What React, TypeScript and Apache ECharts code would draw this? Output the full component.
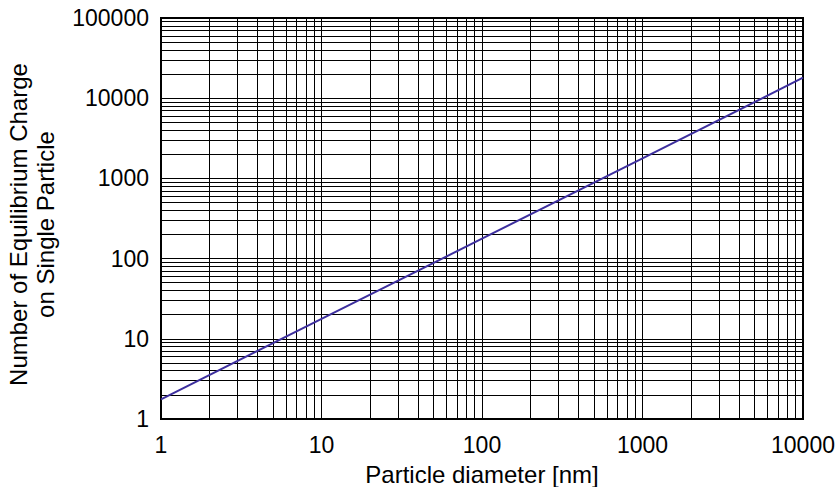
import React, { useEffect, useRef } from "react";
import * as echarts from "echarts";

const particleDiameter = [1, 10, 100, 1000, 10000];
const equilibriumCharge = [1.76, 17.7, 177, 1780, 18000];

const xMinorGrid = [2, 3, 4, 5, 6, 7, 8, 9, 20, 30, 40, 50, 60, 70, 80, 90, 200, 300, 400, 500, 600, 700, 800, 900, 2000, 3000, 4000, 5000, 6000, 7000, 8000, 9000];
const yMinorGrid = [2, 3, 4, 5, 6, 7, 8, 9, 20, 30, 40, 50, 60, 70, 80, 90, 200, 300, 400, 500, 600, 700, 800, 900, 2000, 3000, 4000, 5000, 6000, 7000, 8000, 9000, 20000, 30000, 40000, 50000, 60000, 70000, 80000, 90000];

const FONT = "Liberation Sans, Arial, Helvetica, sans-serif";

export default function App() {
  const ref = useRef<HTMLDivElement>(null);
  useEffect(() => {
    if (!ref.current) return;
    const chart = echarts.init(ref.current, undefined, { renderer: "svg" });
    const data = particleDiameter.map((d, i) => [d, equilibriumCharge[i]]);
    chart.setOption({
      animation: false,
      backgroundColor: "#fff",
      grid: {
        left: 161,
        right: 36,
        top: 18,
        bottom: 68,
        containLabel: false,
        outerBoundsMode: "none",
        show: true,
        borderColor: "#000",
        borderWidth: 2,
        backgroundColor: "transparent",
      },
      xAxis: {
        type: "log",
        logBase: 10,
        min: 1,
        max: 10000,
        name: "Particle diameter [nm]",
        nameLocation: "middle",
        nameGap: 43,
        nameTextStyle: { fontFamily: FONT, fontSize: 24, color: "#000" },
        axisLine: { show: true, lineStyle: { color: "#000", width: 2 } },
        axisTick: { show: false },
        axisLabel: {
          fontFamily: FONT,
          fontSize: 23,
          color: "#000",
          margin: 14,
          formatter: (v: number) => String(v),
        },
        splitLine: { show: true, lineStyle: { color: "#000", width: 1 } },
      },
      yAxis: {
        type: "log",
        logBase: 10,
        min: 1,
        max: 100000,
        name: "Number of Equilibrium Charge\non Single Particle",
        nameLocation: "middle",
        nameGap: 102,
        nameTextStyle: {
          fontFamily: FONT,
          fontSize: 24,
          color: "#000",
          lineHeight: 27,
          align: "center",
          padding: [0, 12, 0, 0],
        },
        axisLine: { show: true, lineStyle: { color: "#000", width: 2 } },
        axisTick: { show: false },
        axisLabel: {
          fontFamily: FONT,
          fontSize: 23,
          color: "#000",
          margin: 12,
          formatter: (v: number) => String(v),
        },
        splitLine: { show: true, lineStyle: { color: "#000", width: 1 } },
      },
      series: [
        {
          type: "line",
          data: [],
          z: 1,
          silent: true,
          markLine: {
            silent: true,
            symbol: "none",
            label: { show: false },
            lineStyle: { color: "#000", width: 1, type: "solid" },
            data: [
              ...xMinorGrid.map((v) => ({ xAxis: v })),
              ...yMinorGrid.map((v) => ({ yAxis: v })),
            ],
          },
        },
        {
          type: "line",
          data,
          z: 5,
          showSymbol: false,
          lineStyle: { color: "#3d2f9e", width: 2 },
        },
      ],
    });
    return () => chart.dispose();
  }, []);
  return (
    <div
      ref={ref}
      style={{ position: "absolute", left: 0, top: 0, width: 839, height: 487 }}
    />
  );
}
